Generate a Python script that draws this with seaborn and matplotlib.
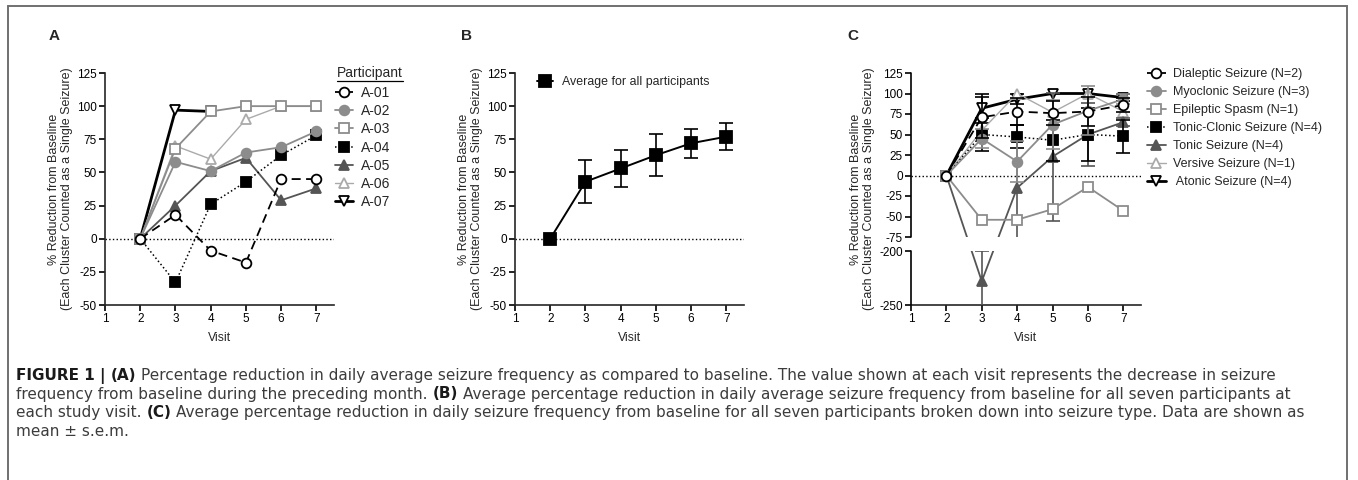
import numpy as np
import matplotlib
matplotlib.use("Agg")
import matplotlib.pyplot as plt
import seaborn as sns
from matplotlib.lines import Line2D
from matplotlib.patches import Rectangle

sns.set_style("ticks")
plt.rcParams['font.family'] = ['Liberation Sans', 'DejaVu Sans']
plt.rcParams['axes.unicode_minus'] = False

visits = [2, 3, 4, 5, 6, 7]

# (A) each participant
participants = ["A-01", "A-02", "A-03", "A-04", "A-05", "A-06", "A-07"]
a01 = [0, 18, -9, -18, 45, 45]
a02 = [0, 58, 51, 65, 69, 81]
a03 = [0, 68, 96, 100, 100, 100]
a04 = [0, -33, 26, 43, 63, 78]
a05 = [0, 25, 51, 61, 29, 38]
a06 = [0, 70, 60, 90, 100, 100]
a07 = [0, 97, 96, np.nan, np.nan, np.nan]

# (B) average of all participants
avg_all = [0, 43, 53, 63, 72, 77]
avg_sem = [0, 16, 14, 16, 11, 10]

# (C) by seizure type
seizure_types = ["Dialeptic Seizure (N=2)", "Myoclonic Seizure (N=3)", "Epileptic Spasm (N=1)",
                 "Tonic-Clonic Seizure (N=4)", "Tonic Seizure (N=4)", "Versive Seizure (N=1)",
                 " Atonic Seizure (N=4)"]
dialeptic = [0, 71, 78, 76, 78, 86]
dialeptic_sem = [0, 25, 16, 15, 18, 8]
myoclonic = [0, 45, 17, 62, 79, 93]
myoclonic_sem = [0, 12, 25, 30, 30, 6]
spasm = [0, -54, -54, -41, -14, -43]
spasm_sem = [0, 0, 0, 0, 0, 0]
tonic_clonic = [0, 50, 47, 43, 50, 48]
tonic_clonic_sem = [0, 20, 14, 25, 32, 20]
tonic = [0, -228, -15, 23, 50, 65]
tonic_sem = [0, 28, 77, 78, 38, 5]
versive = [0, 55, 100, 77, 100, 78]
versive_sem = [0, 0, 0, 0, 0, 0]
atonic = [0, 82, 93, 100, 100, 95]
atonic_sem = [0, 18, 6, 0, 0, 4]

styles = [
    dict(color='k', ls=(0, (5, 3)), marker='o', mfc='white', lw=1.3, ms=7),
    dict(color='#8c8c8c', ls='-', marker='o', mfc='#8c8c8c', lw=1.3, ms=7),
    dict(color='#8c8c8c', ls='-', marker='s', mfc='white', lw=1.3, ms=7),
    dict(color='k', ls=':', marker='s', mfc='k', lw=1.1, ms=7),
    dict(color='#555555', ls='-', marker='^', mfc='#555555', lw=1.3, ms=7.5),
    dict(color='#aaaaaa', ls='-', marker='^', mfc='white', lw=1.0, ms=7.5),
    dict(color='k', ls='-', marker='v', mfc='white', lw=2.0, ms=7.5),
]

W, H = 1358, 480
def fx(px): return px / W
def fy(py): return 1 - py / H

fig = plt.figure(figsize=(W / 100, H / 100), dpi=100)
axA = fig.add_axes([fx(105), fy(305), 229 / W, 232 / H])
axB = fig.add_axes([fx(515), fy(305), 229 / W, 232 / H])
axC = fig.add_axes([fx(911), fy(305), 230 / W, 232 / H])

ylab = "% Reduction from Baseline\n(Each Cluster Counted as a Single Seizure)"


def draw(ax, vals, st, label, z, sem=None):
    sns.lineplot(x=visits, y=vals, ax=ax, color=st['color'], linestyle=st['ls'], linewidth=st['lw'],
                 marker=st['marker'], markersize=st['ms'], markerfacecolor=st['mfc'],
                 markeredgecolor=st['color'], markeredgewidth=1.3, label=label, zorder=z)
    if sem is not None:
        v = np.array(vals, float); s = np.array(sem, float); x = np.array(visits)
        m = s > 0
        if m.any():
            ax.errorbar(x[m], v[m], yerr=s[m], fmt='none', ecolor=st['color'], elinewidth=1.2,
                        capsize=5, capthick=1.2, zorder=z - 0.5)


def style(ax):
    ax.set_xlim(1, 7.5)
    ax.set_xticks(range(1, 8))
    sns.despine(ax=ax)
    for s in ['left', 'bottom']:
        ax.spines[s].set_linewidth(1.2)
    ax.tick_params(length=4, width=1.2, labelsize=8.5, pad=2, color='k', labelcolor='k')
    ax.set_xlabel("Visit", fontsize=8.8, labelpad=5)
    ax.set_ylabel(ylab, fontsize=9, labelpad=3, linespacing=1.1)
    ax.axhline(0, color='k', ls=':', lw=1, zorder=1)


# ---- A
for i, (vals, lab) in enumerate(zip([a01, a02, a03, a04, a05, a06, a07], participants)):
    draw(axA, vals, styles[i], lab, 10 - i)
style(axA)
axA.set_ylim(-50, 125)
axA.set_yticks(range(-50, 126, 25))
h, l = axA.get_legend_handles_labels()
axA.legend(h, l, loc='upper left', bbox_to_anchor=(fx(335), fy(86)), bbox_transform=fig.transFigure,
           frameon=False, fontsize=10, handlelength=1.3, handletextpad=0.6, labelspacing=0.3,
           borderpad=0, borderaxespad=0)
tt = fig.text(fx(337), fy(73), "Participant", fontsize=10, va='center', ha='left')

# ---- B
draw(axB, avg_all, dict(color='k', ls='-', marker='s', mfc='k', lw=1.4, ms=8),
     "Average for all participants", 5, avg_sem)
style(axB)
axB.set_ylim(-50, 125)
axB.set_yticks(range(-50, 126, 25))
h, l = axB.get_legend_handles_labels()
axB.legend(h, l, loc='upper left', bbox_to_anchor=(fx(537), fy(76)), bbox_transform=fig.transFigure,
           frameon=False, fontsize=8.9, handlelength=1.3, handletextpad=0.7,
           borderpad=0, borderaxespad=0)

# ---- C (broken axis: -75 .. -200 squeezed)
k1, k2, k3 = 164 / 200, 14 / 125, 54 / 50
def fwd(y):
    y = np.asarray(y, float)
    return np.where(y >= -75, y * k1,
                    np.where(y >= -200, -75 * k1 + (y + 75) * k2,
                             -75 * k1 - 125 * k2 + (y + 200) * k3))
def inv(v):
    v = np.asarray(v, float)
    b1 = -75 * k1
    b2 = b1 - 125 * k2
    return np.where(v >= b1, v / k1,
                    np.where(v >= b2, -75 + (v - b1) / k2, -200 + (v - b2) / k3))

c_series = [(dialeptic, dialeptic_sem), (myoclonic, myoclonic_sem), (spasm, spasm_sem),
            (tonic_clonic, tonic_clonic_sem), (tonic, tonic_sem), (versive, versive_sem),
            (atonic, atonic_sem)]
for i, ((vals, sem), lab) in enumerate(zip(c_series, seizure_types)):
    draw(axC, vals, styles[i], lab, 10 - i, sem)
style(axC)
axC.set_yscale('function', functions=(fwd, inv))
axC.set_ylim(-250, 125)
axC.set_yticks(list(range(-75, 126, 25)) + [-200, -250])
axC.yaxis.set_major_formatter(matplotlib.ticker.FormatStrFormatter('%d'))
axC.yaxis.set_minor_locator(matplotlib.ticker.NullLocator())
axC.axhspan(-200, -75, color='white', lw=0, zorder=20)
axC.spines['left'].set_visible(False)
for lo, hi in [(-75, 125), (-250, -200)]:
    axC.plot([0, 0], [lo, hi], color='k', lw=1.2, transform=axC.get_yaxis_transform(),
             clip_on=False, zorder=21)
h, l = axC.get_legend_handles_labels()
axC.legend(h, l, loc='upper left', bbox_to_anchor=(fx(1147), fy(68)), bbox_transform=fig.transFigure,
           frameon=False, fontsize=9, handlelength=1.5, handletextpad=0.6, labelspacing=0.48,
           borderpad=0, borderaxespad=0)

# panel letters
for px, letter in [(49, 'A'), (461, 'B'), (847, 'C')]:
    fig.text(fx(px), fy(40), letter, fontsize=11, fontweight='bold', va='baseline', ha='left')

# frame
fig.add_artist(Rectangle((fx(8), -0.1), fx(1347) - fx(8), fy(6) + 0.1, transform=fig.transFigure,
                         fill=False, ec='#707070', lw=1.4))

# caption
renderer = fig.canvas.get_renderer()
bb = tt.get_window_extent(renderer)
fig.add_artist(Line2D([bb.x0 / W, bb.x1 / W], [fy(81), fy(81)], color='k', lw=0.9,
                      transform=fig.transFigure))

cap_size = 11
cap_font = ['DejaVu Sans']
def width(s, bold):
    t = fig.text(0, 0, s, fontsize=cap_size, family=cap_font, fontweight='bold' if bold else 'normal')
    w = t.get_window_extent(renderer).width
    t.remove()
    return w
space_w = width("x x", False) - width("xx", False)

caption = [
    [("FIGURE 1 |", True), ("(A)", True),
     ("Percentage reduction in daily average seizure frequency as compared to baseline. The value shown at each visit represents the decrease in seizure", False)],
    [("frequency from baseline during the preceding month.", False), ("(B)", True),
     ("Average percentage reduction in daily average seizure frequency from baseline for all seven participants at", False)],
    [("each study visit.", False), ("(C)", True),
     ("Average percentage reduction in daily seizure frequency from baseline for all seven participants broken down into seizure type. Data are shown as", False)],
    [("mean \u00b1 s.e.m.", False)],
]
for line, base in zip(caption, [380, 398.5, 417, 435.5]):
    x = 16
    for txt, bold in line:
        fig.text(fx(x), fy(base), txt, fontsize=cap_size, family=cap_font,
                 fontweight='bold' if bold else 'normal',
                 color='#1a1a1a' if bold else '#3c3c3c', va='baseline', ha='left')
        x += width(txt, bold) + space_w

fig.savefig("out.png", dpi=100)
